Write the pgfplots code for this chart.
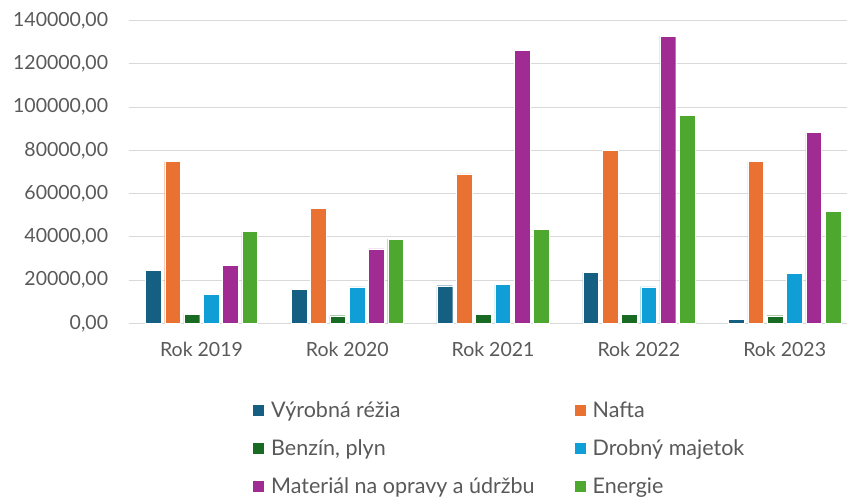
\documentclass[border=0pt]{standalone}
\usepackage{pgfplots}
\pgfplotsset{compat=1.18}
\usepackage{fontspec}
\setmainfont{Lato}
\definecolor{c1}{HTML}{156082}
\definecolor{c2}{HTML}{E97132}
\definecolor{c3}{HTML}{196B24}
\definecolor{c4}{HTML}{0F9ED5}
\definecolor{c5}{HTML}{A02B93}
\definecolor{c6}{HTML}{4EA72E}
\definecolor{txt}{HTML}{595959}
\definecolor{grd}{HTML}{D9D9D9}
\begin{document}
\begin{tikzpicture}
\begin{axis}[
  scale only axis, width=729pt, height=302.6pt,
  ybar=3.6pt, bar width=15.7pt,
  xmin=-0.5, xmax=4.5, ymin=0, ymax=140000,
  xtick={0,1,2,3,4}, xticklabels={Rok 2019,Rok 2020,Rok 2021,Rok 2022,Rok 2023},
  ytick={0,20000,...,140000},
  scaled y ticks=false,
  yticklabel style={/pgf/number format/fixed, /pgf/number format/fixed zerofill,
    /pgf/number format/precision=2, /pgf/number format/use comma,
    /pgf/number format/1000 sep={}, /pgf/number format/assume math mode=true,
    xshift=-17pt},
  ticklabel style={font=\fontsize{19.5}{23}\selectfont, text=txt},
  xticklabel style={yshift=-15pt},
  major tick length=0pt,
  axis line style={draw=none},
  ymajorgrids, grid style={grd, line width=1pt},
  legend columns=2,
  legend cell align=left,
  legend style={draw=none, font=\fontsize{21.5}{25}\selectfont, text=txt,
    at={(axis description cs:0.1707,-0.252)}, anchor=north west,
    /tikz/every odd column/.append style={column sep=5pt},
    /tikz/every even column/.append style={column sep=38pt},
    row sep=16.5pt, inner sep=0pt},
  legend image code/.code={\fill[#1, draw=none] (0pt,-5.5pt) rectangle (11pt,5.5pt);},
  every axis plot/.append style={draw=white, line width=0.35pt},
]
\addplot[fill=c1] coordinates {(0,24400) (1,15700) (2,17400) (3,23700) (4,1900)};
\addlegendentry{Výrobná réžia}
\addplot[fill=c2] coordinates {(0,74800) (1,53300) (2,69100) (3,80000) (4,74800)};
\addlegendentry{Nafta}
\addplot[fill=c3] coordinates {(0,4200) (1,3500) (2,4200) (3,4200) (4,3500)};
\addlegendentry{Benzín, plyn}
\addplot[fill=c4] coordinates {(0,13400) (1,16800) (2,18000) (3,16800) (4,23100)};
\addlegendentry{Drobný majetok}
\addplot[fill=c5] coordinates {(0,26700) (1,34400) (2,126400) (3,132900) (4,88200)};
\addlegendentry{Materiál na opravy a údržbu}
\addplot[fill=c6] coordinates {(0,42400) (1,38900) (2,43500) (3,96200) (4,51700)};
\addlegendentry{Energie}
\end{axis}
\pgfresetboundingbox
\path[use as bounding box] (current axis.south west) ++(-128.6pt,-178.7pt) rectangle ++(847pt,502pt);
\end{tikzpicture}
\end{document}
